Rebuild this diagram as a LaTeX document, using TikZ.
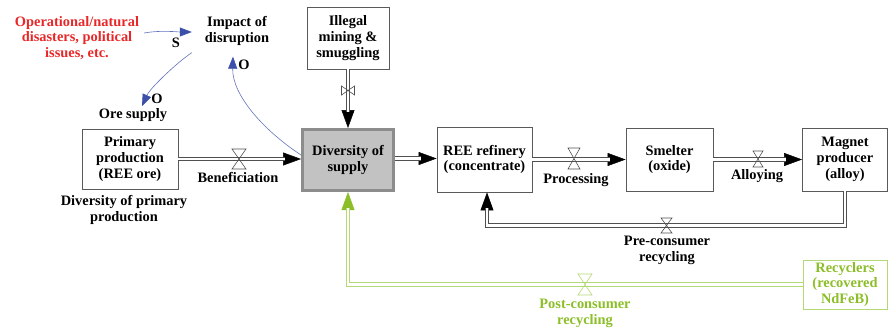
\documentclass[tikz,border=0pt]{standalone}
\usepackage{fontspec}
\setmainfont{Liberation Serif}
\newfontfamily\tnr{Liberation Serif}
\usetikzlibrary{arrows.meta}
\definecolor{pipegray}{RGB}{80,80,80}
\definecolor{boxgray}{RGB}{90,90,90}
\definecolor{divfill}{RGB}{194,194,194}
\definecolor{divdraw}{RGB}{140,140,140}
\definecolor{infblue}{RGB}{60,80,170}
\definecolor{disred}{RGB}{232,40,40}
\definecolor{recgreen}{RGB}{140,190,40}
\definecolor{recpale}{RGB}{180,215,120}
\tikzset{
  txt/.style={font=\tnr\bfseries\fontsize{14.4}{15.7}\selectfont, align=center, inner sep=0pt},
  box/.style={txt, draw=boxgray, line width=0.9pt, fill=white},
  pipe/.style={draw=pipegray, double=white, double distance=2.8pt, line width=0.8pt, shorten >=16pt},
  tipline/.style={draw=black, line width=0.5pt, -{Triangle[length=18pt,width=13pt]}},
  gpipe/.style={pipe, draw=recpale},
  gtipline/.style={tipline, draw=recgreen},
  inf/.style={draw=infblue!80!white, line width=0.6pt, -{Triangle[length=12pt,width=9pt,fill=infblue,color=infblue]}},
  pics/valve/.style n args={3}{code={
    \draw[draw=#3, line width=0.6pt] (-#1,-#2) -- (#1,-#2) -- (-#1,#2) -- (#1,#2) -- cycle;}}
}
\begin{document}
\begin{tikzpicture}[x=1pt,y=-1pt]
\useasboundingbox (0,0) rectangle (888,329);
% text nodes
\node[txt, text=disred] (dis) at (77,38) {Operational/natural\\disasters, political\\issues, etc.};
\node[txt] (imp) at (237,31) {Impact of\\disruption};
\node[txt] (ore) at (133,115) {Ore supply};
\node[txt] (dpp) at (124,210) {Diversity of primary\\production};
% boxes
\node[box, minimum width=96pt, minimum height=60pt] (prim) at (130,159) {Primary\\production\\(REE ore)};
\node[box, draw=divdraw, fill=divfill, line width=3pt, minimum width=91pt, minimum height=61pt] (div) at (348,160) {Diversity of\\supply};
\node[box, minimum width=82pt, minimum height=62pt] (ill) at (348,38) {Illegal\\mining \&\\smuggling};
\node[box, minimum width=95pt, minimum height=65pt] (ree) at (484.5,159.5) {REE refinery\\(concentrate)};
\node[box, minimum width=87pt, minimum height=63pt] (smel) at (669.5,159.5) {Smelter\\(oxide)};
\node[box, minimum width=85pt, minimum height=63pt] (mag) at (845,159.5) {Magnet\\producer\\(alloy)};
\node[box, draw=recpale, text=recgreen, minimum width=84pt, minimum height=49pt] (rec) at (845,284.5) {Recyclers\\(recovered\\NdFeB)};
% pipes: arrow line underneath, double pipe on top
\draw[tipline] (prim.east) -- (prim.east -| div.west);
\draw[pipe] (prim.east) -- (prim.east -| div.west);
\draw[tipline] (ill.south) -- (div.north);
\draw[pipe] (ill.south) -- (div.north);
\draw[tipline] ([yshift=1.5pt]div.east) -- ([yshift=1.5pt]div.east -| ree.west);
\draw[pipe] ([yshift=1.5pt]div.east) -- ([yshift=1.5pt]div.east -| ree.west);
\draw[tipline] (ree.east) -- (smel.west);
\draw[pipe] (ree.east) -- (smel.west);
\draw[tipline] (smel.east) -- (mag.west);
\draw[pipe] (smel.east) -- (mag.west);
\draw[tipline] (mag.south) -- ++(0,34) -| ([xshift=2.5pt]ree.south);
\draw[pipe] (mag.south) -- ++(0,34) -| ([xshift=2.5pt]ree.south);
\draw[gtipline] (rec.west) -| (div.south);
\draw[gpipe] (rec.west) -| (div.south);
% valves
\pic at (239,159) {valve={7}{10}{pipegray}};
\pic[rotate=90] at (348,90.5) {valve={4.5}{6.5}{pipegray}};
\pic at (574,158.5) {valve={6}{10.5}{pipegray}};
\pic at (758,159) {valve={5}{8}{pipegray}};
\pic at (666.5,225.5) {valve={5.5}{7.5}{pipegray}};
\pic at (585,284.5) {valve={7}{10.5}{recpale}};
% flow labels
\node[txt] (lben) at (238,177) {Beneficiation};
\node[txt] (lpro) at (576,180) {Processing};
\node[txt] (lall) at (757,176) {Alloying};
\node[txt] (lpre) at (667,250.5) {Pre-consumer\\recycling};
\node[txt, text=recgreen] (lpost) at (585,313.5) {Post-consumer\\recycling};
% influence arrows
\draw[inf] ([xshift=5pt,yshift=5pt]dis.east) .. controls +(16,-3) and +(-13,0) .. ([xshift=-13pt,yshift=-1pt]imp.west);
\draw[inf] ([xshift=-13pt,yshift=-7pt]imp.south west) .. controls +(-15,10) and +(8,-18) .. ([xshift=9pt,yshift=2pt]ore.north);
\draw[inf] ([yshift=5pt]div.west) .. controls +(-38,-25) and +(-1,38) .. ([xshift=-4pt,yshift=-11pt]imp.south);
\node[txt] (lS) at (176,43) {S};
\node[txt] (lO1) at (157,99) {O};
\node[txt] (lO2) at (244,65) {O};
\end{tikzpicture}
\end{document}
